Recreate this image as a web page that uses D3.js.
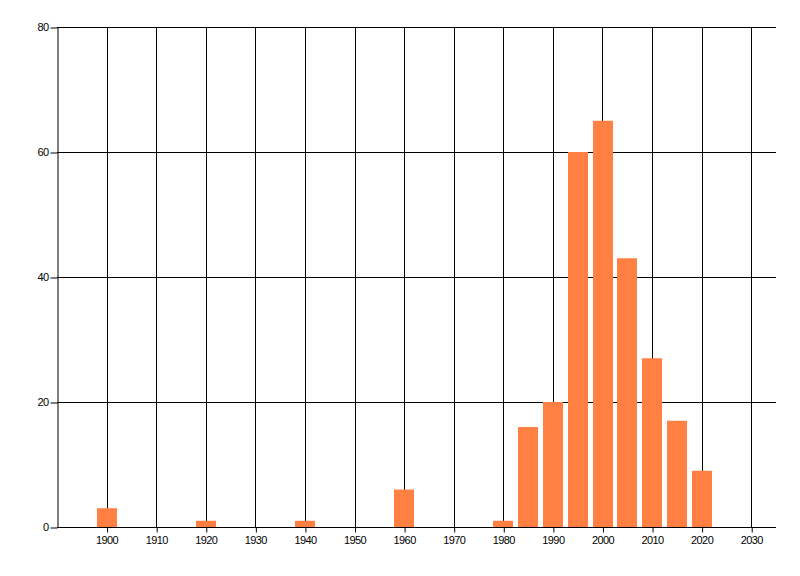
<!DOCTYPE html>
<html>
<head>
<meta charset="utf-8">
<script src="https://cdn.jsdelivr.net/npm/d3@7"></script>
<style>
  body { margin: 0; background: #fff; }
  text { font-family: "Liberation Sans", Arial, sans-serif; font-size: 11px; letter-spacing: -0.6px; fill: #000; }
</style>
</head>
<body>
<div id="graph"></div>
<script>
// Datos
const years = [1900, 1920, 1940, 1960, 1980, 1985, 1990, 1995, 2000, 2005, 2010, 2015, 2020]
const counts = [3, 1, 1, 6, 1, 16, 20, 60, 65, 43, 27, 17, 9]
const xTicks = [1900, 1910, 1920, 1930, 1940, 1950, 1960, 1970, 1980, 1990, 2000, 2010, 2020, 2030]
const yTicks = [0, 20, 40, 60, 80]

const dimensions = { width: 800, height: 576 }
const margin = { left: 57, right: 24, top: 27, bottom: 49 }

const svg = d3.select("#graph")
  .append("svg")
    .attr("width", dimensions.width)
    .attr("height", dimensions.height)

const xScale = d3.scaleLinear()
  .domain([1890, 2035])
  .range([margin.left, dimensions.width - margin.right])

const yScale = d3.scaleLinear()
  .domain([0, 80])
  .range([dimensions.height - margin.bottom, margin.top])

// Rejilla
const grid = svg.append("g").attr("stroke", "#000").attr("stroke-width", 1)

grid.selectAll(".v")
  .data(xTicks)
  .join("line")
    .attr("x1", d => Math.round(xScale(d)) + 0.5)
    .attr("x2", d => Math.round(xScale(d)) + 0.5)
    .attr("y1", yScale(80))
    .attr("y2", yScale(0))

grid.selectAll(".h")
  .data(yTicks.filter(d => d > 0))
  .join("line")
    .attr("x1", margin.left)
    .attr("x2", dimensions.width - margin.right)
    .attr("y1", d => Math.round(yScale(d)) + 0.5)
    .attr("y2", d => Math.round(yScale(d)) + 0.5)

// Barras
const barWidth = xScale(1904) - xScale(1900)
svg.append("g")
  .selectAll("rect")
  .data(years)
  .join("rect")
    .attr("x", (d) => Math.round(xScale(d) - barWidth / 2))
    .attr("width", Math.round(barWidth))
    .attr("y", (d, i) => yScale(counts[i]))
    .attr("height", (d, i) => yScale(0) - yScale(counts[i]) + 0.5)
    .attr("fill", "#ff8042")

// Ejes
const xAxis = g => g
  .attr("transform", `translate(0,${Math.round(yScale(0)) + 0.5})`)
  .call(d3.axisBottom(xScale).tickValues(xTicks).tickFormat(d3.format("d")).tickSize(5).tickSizeOuter(0))
  .call(g => g.select(".domain").attr("stroke", "#000").attr("d", `M${margin.left},0H${dimensions.width - margin.right}`))
  .call(g => g.selectAll(".tick line").attr("stroke", "#000").attr("transform", "translate(0.5,0)"))
  .call(g => g.selectAll(".tick text").attr("dy", "0.72em").attr("y", 9).attr("font-family", null).attr("font-size", null))

const yAxis = g => g
  .attr("transform", `translate(${margin.left + 0.5},0)`)
  .call(d3.axisLeft(yScale).tickValues(yTicks).tickSize(7).tickSizeOuter(0))
  .call(g => g.select(".domain").attr("stroke", "#000"))
  .call(g => g.selectAll(".tick line").attr("stroke", "#000").attr("transform", "translate(0,0.5)"))
  .call(g => g.selectAll(".tick text").attr("x", -9).attr("font-family", null).attr("font-size", null))

svg.append("g").call(xAxis)
svg.append("g").call(yAxis)
</script>
</body>
</html>
